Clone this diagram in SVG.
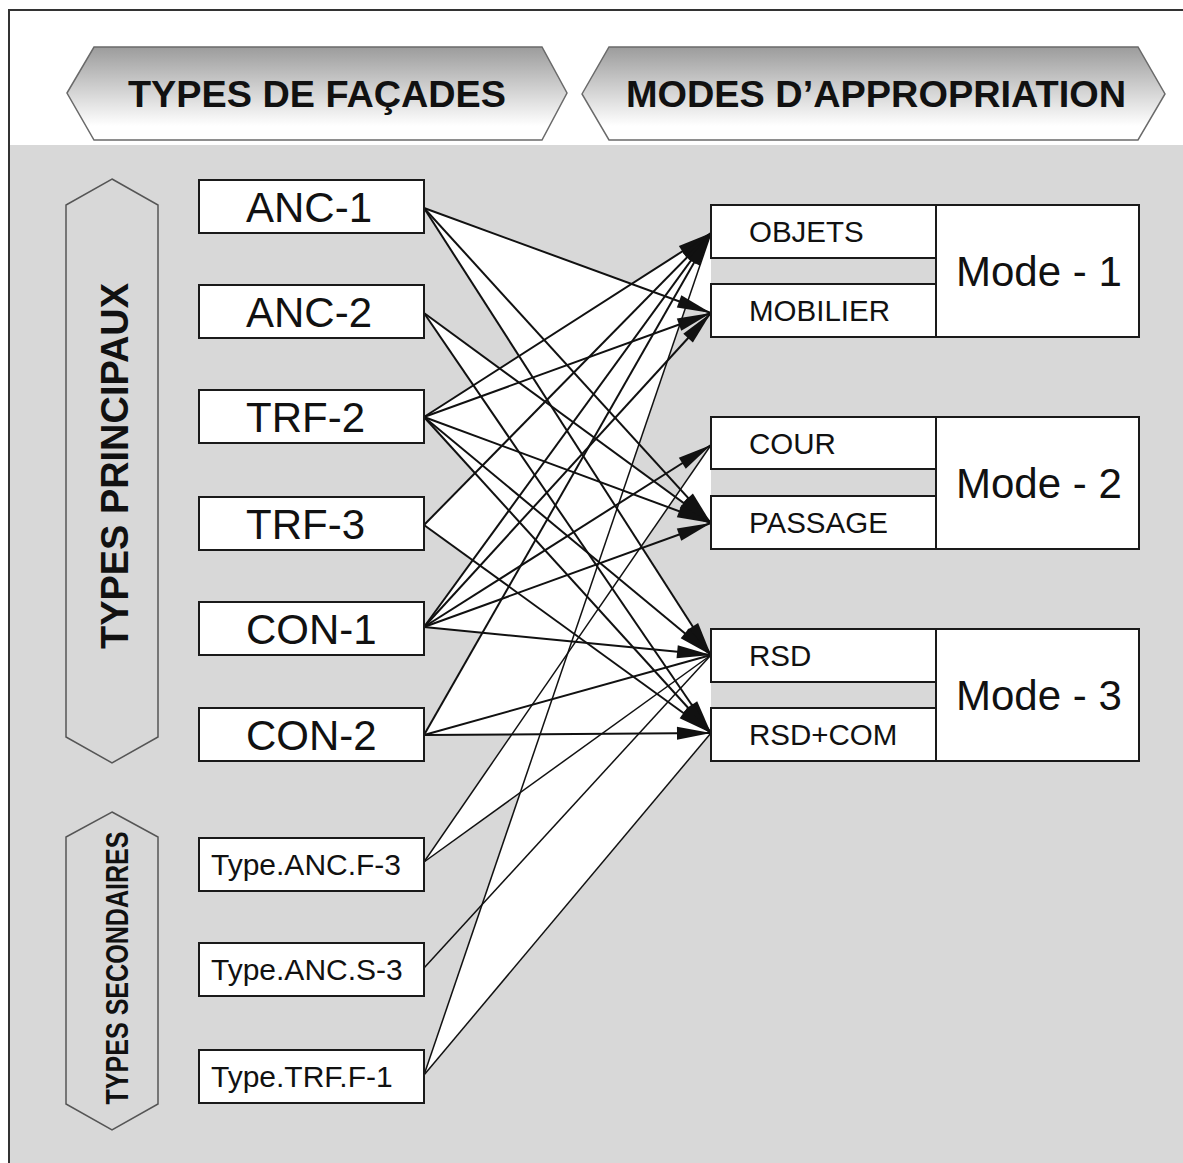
<svg xmlns="http://www.w3.org/2000/svg" width="1183" height="1163" viewBox="0 0 1183 1163">
<defs>
<linearGradient id="bg" x1="0" y1="0" x2="0" y2="1">
<stop offset="0" stop-color="#9c9c9c"/>
<stop offset="0.85" stop-color="#ffffff"/>
<stop offset="1" stop-color="#ffffff"/>
</linearGradient>
<marker id="ah" markerUnits="userSpaceOnUse" viewBox="0 0 34 13" markerWidth="34" markerHeight="13" refX="34" refY="6.5" orient="auto" overflow="visible">
<path d="M0,0 L34,6.5 L0,13 z" fill="#111"/>
</marker>
<style>
.hdr{font-family:"Liberation Sans",Arial,sans-serif;font-weight:bold;font-size:37.5px;fill:#111}
.vt{font-family:"Liberation Sans",Arial,sans-serif;font-weight:bold;fill:#111}
.box{fill:#fff;stroke:#1a1a1a;stroke-width:2}
.lb{font-family:"Liberation Sans",Arial,sans-serif;font-size:42px;fill:#111}
.ls{font-family:"Liberation Sans",Arial,sans-serif;font-size:30px;fill:#111}
.lr{font-family:"Liberation Sans",Arial,sans-serif;font-size:29.5px;fill:#111}
.c{stroke:#111;stroke-width:2;fill:none}
.c2{stroke:#111;stroke-width:1.5;fill:none}
.fan{fill:#fff;stroke:none}
.gap{fill:#d8d8d8;stroke:none}
.hex{fill:#d8d8d8;stroke:#555;stroke-width:1.5}
.ban{fill:url(#bg);stroke:#6a6a6a;stroke-width:1.5}
</style>
</defs>
<rect x="0" y="0" width="1183" height="1163" fill="#fff"/>
<rect x="9" y="145" width="1180" height="1030" fill="#d8d8d8"/>
<rect x="9" y="10" width="1200" height="1200" fill="none" stroke="#333" stroke-width="2"/>

<g id="header-types">
<polygon class="ban" points="67,93 94,47 542,47 567,93 542,140 94,140"/>
<text class="hdr" x="128" y="107" textLength="378" lengthAdjust="spacingAndGlyphs">TYPES DE FAÇADES</text>
</g>
<g id="header-modes">
<polygon class="ban" points="582,94 609,47 1138,47 1165,94 1138,140 609,140"/>
<text class="hdr" x="626" y="107" textLength="500" lengthAdjust="spacingAndGlyphs">MODES D’APPROPRIATION</text>
</g>

<g id="group-principaux">
<polygon class="hex" points="112,179 158,205 158,737 112,763 66,737 66,205"/>
<text class="vt" font-size="39" text-anchor="middle" transform="translate(128,466) rotate(-90)" textLength="366" lengthAdjust="spacingAndGlyphs">TYPES PRINCIPAUX</text>
</g>
<g id="group-secondaires">
<polygon class="hex" points="112,812 158,837 158,1104 112,1130 66,1104 66,837"/>
<text class="vt" font-size="32" text-anchor="middle" transform="translate(128,968) rotate(-90)" textLength="273" lengthAdjust="spacingAndGlyphs">TYPES SECONDAIRES</text>
</g>

<g id="fans">
<polygon class="fan" points="424,208 711,313 711,655"/>
<polygon class="fan" points="424,313 711,523 711,733"/>
<polygon class="fan" points="424,417 711,233 711,733"/>
<polygon class="fan" points="424,525 711,233 711,733"/>
<polygon class="fan" points="424,627 711,233 711,655"/>
<polygon class="fan" points="424,735 711,233 711,733"/>
<polygon class="fan" points="424,862 711,445 711,655"/>
<polygon class="fan" points="424,1075 711,233 711,733"/>
<polygon class="gap" points="687,304 711,313 711,445 675,497 632,465"/>
<polygon class="gap" points="675,497 711,523 711,655 641,546"/>
</g>

<g id="connectors">
<line class="c" x1="424" y1="208" x2="711" y2="313" marker-end="url(#ah)"/>
<line class="c" x1="424" y1="208" x2="711" y2="523" marker-end="url(#ah)"/>
<line class="c" x1="424" y1="208" x2="711" y2="655" marker-end="url(#ah)"/>
<line class="c" x1="424" y1="313" x2="711" y2="523" marker-end="url(#ah)"/>
<line class="c" x1="424" y1="313" x2="711" y2="733" marker-end="url(#ah)"/>
<line class="c" x1="424" y1="417" x2="711" y2="233" marker-end="url(#ah)"/>
<line class="c" x1="424" y1="417" x2="711" y2="313" marker-end="url(#ah)"/>
<line class="c" x1="424" y1="417" x2="711" y2="523" marker-end="url(#ah)"/>
<line class="c" x1="424" y1="417" x2="711" y2="655" marker-end="url(#ah)"/>
<line class="c" x1="424" y1="417" x2="711" y2="733" marker-end="url(#ah)"/>
<line class="c" x1="424" y1="525" x2="711" y2="233" marker-end="url(#ah)"/>
<line class="c" x1="424" y1="525" x2="711" y2="733" marker-end="url(#ah)"/>
<line class="c" x1="424" y1="627" x2="711" y2="233" marker-end="url(#ah)"/>
<line class="c" x1="424" y1="627" x2="711" y2="313" marker-end="url(#ah)"/>
<line class="c" x1="424" y1="627" x2="711" y2="445" marker-end="url(#ah)"/>
<line class="c" x1="424" y1="627" x2="711" y2="523" marker-end="url(#ah)"/>
<line class="c" x1="424" y1="627" x2="711" y2="655" marker-end="url(#ah)"/>
<line class="c" x1="424" y1="735" x2="711" y2="233" marker-end="url(#ah)"/>
<line class="c" x1="424" y1="735" x2="711" y2="655"/>
<line class="c" x1="424" y1="735" x2="711" y2="733" marker-end="url(#ah)"/>
<line class="c2" x1="424" y1="862" x2="711" y2="445"/>
<line class="c2" x1="424" y1="862" x2="711" y2="655"/>
<line class="c2" x1="424" y1="968" x2="711" y2="655"/>
<line class="c2" x1="424" y1="1075" x2="711" y2="233"/>
<line class="c2" x1="424" y1="1075" x2="711" y2="733"/>
</g>

<g id="anc-1"><rect class="box" x="199" y="180" width="225" height="53"/><text class="lb" x="246" y="222">ANC-1</text></g>
<g id="anc-2"><rect class="box" x="199" y="285" width="225" height="53"/><text class="lb" x="246" y="327">ANC-2</text></g>
<g id="trf-2"><rect class="box" x="199" y="390" width="225" height="53"/><text class="lb" x="246" y="432">TRF-2</text></g>
<g id="trf-3"><rect class="box" x="199" y="497" width="225" height="53"/><text class="lb" x="246" y="539">TRF-3</text></g>
<g id="con-1"><rect class="box" x="199" y="602" width="225" height="53"/><text class="lb" x="246" y="644">CON-1</text></g>
<g id="con-2"><rect class="box" x="199" y="708" width="225" height="53"/><text class="lb" x="246" y="750">CON-2</text></g>
<g id="type-anc-f-3"><rect class="box" x="199" y="838" width="225" height="53"/><text class="ls" x="211" y="875">Type.ANC.F-3</text></g>
<g id="type-anc-s-3"><rect class="box" x="199" y="943" width="225" height="53"/><text class="ls" x="211" y="980">Type.ANC.S-3</text></g>
<g id="type-trf-f-1"><rect class="box" x="199" y="1050" width="225" height="53"/><text class="ls" x="211" y="1087">Type.TRF.F-1</text></g>

<g id="mode-1"><rect class="box" x="936" y="205" width="203" height="132"/><text class="lb" x="956" y="286">Mode - 1</text></g>
<g id="objets"><rect class="box" x="711" y="205" width="225" height="53"/><text class="lr" x="749" y="242">OBJETS</text></g>
<g id="mobilier"><rect class="box" x="711" y="284" width="225" height="53"/><text class="lr" x="749" y="321">MOBILIER</text></g>
<g id="mode-2"><rect class="box" x="936" y="417" width="203" height="132"/><text class="lb" x="956" y="498">Mode - 2</text></g>
<g id="cour"><rect class="box" x="711" y="417" width="225" height="52"/><text class="lr" x="749" y="454">COUR</text></g>
<g id="passage"><rect class="box" x="711" y="496" width="225" height="53"/><text class="lr" x="749" y="533">PASSAGE</text></g>
<g id="mode-3"><rect class="box" x="936" y="629" width="203" height="132"/><text class="lb" x="956" y="710">Mode - 3</text></g>
<g id="rsd"><rect class="box" x="711" y="629" width="225" height="53"/><text class="lr" x="749" y="666">RSD</text></g>
<g id="rsd-com"><rect class="box" x="711" y="708" width="225" height="53"/><text class="lr" x="749" y="745">RSD+COM</text></g>
</svg>
